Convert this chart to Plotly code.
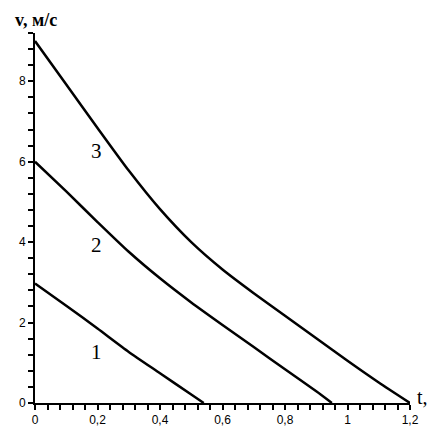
import plotly.graph_objects as go

# Data
t1 = [0.0, 0.1, 0.2, 0.3, 0.4, 0.5, 0.54]
v1 = [2.97, 2.42, 1.85, 1.27, 0.74, 0.21, 0.0]

t2 = [0.0, 0.1, 0.2, 0.3, 0.4, 0.5, 0.6, 0.7, 0.8, 0.9, 0.95]
v2 = [6.0, 5.26, 4.5, 3.76, 3.1, 2.5, 1.94, 1.39, 0.84, 0.29, 0.0]

t3 = [0.0, 0.1, 0.2, 0.3, 0.4, 0.5, 0.6, 0.7, 0.8, 0.9, 1.0, 1.1, 1.2]
v3 = [9.0, 7.92, 6.84, 5.78, 4.82, 4.0, 3.32, 2.73, 2.17, 1.61, 1.05, 0.51, 0.0]

curve_labels = ["1", "2", "3"]
label_t = [0.197, 0.197, 0.197]
label_v = [1.28, 3.94, 6.27]

x_title = "t,"
y_title = "v, м/с"

fig = go.Figure()
for t, v in [(t1, v1), (t2, v2), (t3, v3)]:
    fig.add_trace(go.Scatter(x=t, y=v, mode="lines",
                             line=dict(color="black", width=2.5, shape="spline", smoothing=0.6),
                             cliponaxis=False, showlegend=False, hoverinfo="skip"))

for lab, lx, ly in zip(curve_labels, label_t, label_v):
    fig.add_annotation(x=lx, y=ly, text=lab, showarrow=False,
                       font=dict(family="Liberation Serif", size=21, color="black"))

fig.add_annotation(xref="paper", yref="paper", x=-0.059, y=1.035,
                   xanchor="left", yanchor="middle", text="<b>" + y_title + "</b>", showarrow=False,
                   font=dict(family="Liberation Serif", size=18, color="black"))
fig.add_annotation(xref="paper", yref="paper", x=1.0, y=0.0, xshift=5, yshift=6,
                   xanchor="left", yanchor="middle", text=x_title, showarrow=False,
                   font=dict(family="Liberation Serif", size=20, color="black"))

tickfont = dict(family="Liberation Sans", size=12, color="black")
fig.update_xaxes(range=[0, 1.2], dtick=0.2, tick0=0, showgrid=False, zeroline=False,
                 showline=True, linecolor="black", linewidth=2, automargin=False,
                 ticks="outside", ticklen=5, tickwidth=1.5, tickcolor="black",
                 ticklabelstandoff=0,
                 minor=dict(dtick=0.04, ticks="outside", ticklen=5, tickwidth=1.5, tickcolor="black", showgrid=False),
                 tickfont=tickfont, fixedrange=True)
fig.update_yaxes(range=[0, 9.2], dtick=2, tick0=0, showgrid=False, zeroline=False,
                 showline=True, linecolor="black", linewidth=2, automargin=False,
                 ticks="outside", ticklen=5, tickwidth=1.5, tickcolor="black",
                 minor=dict(dtick=0.4, ticks="outside", ticklen=5, tickwidth=1.5, tickcolor="black", showgrid=False),
                 tickfont=tickfont, fixedrange=True)

fig.update_layout(width=439, height=430, margin=dict(l=35, r=29, t=33, b=27, pad=0),
                  plot_bgcolor="white", paper_bgcolor="white", separators=", ",
                  showlegend=False)

fig.write_html("out.html", config={"displayModeBar": False},
               post_script="document.body.style.margin='0px';document.body.style.overflow='hidden';")
